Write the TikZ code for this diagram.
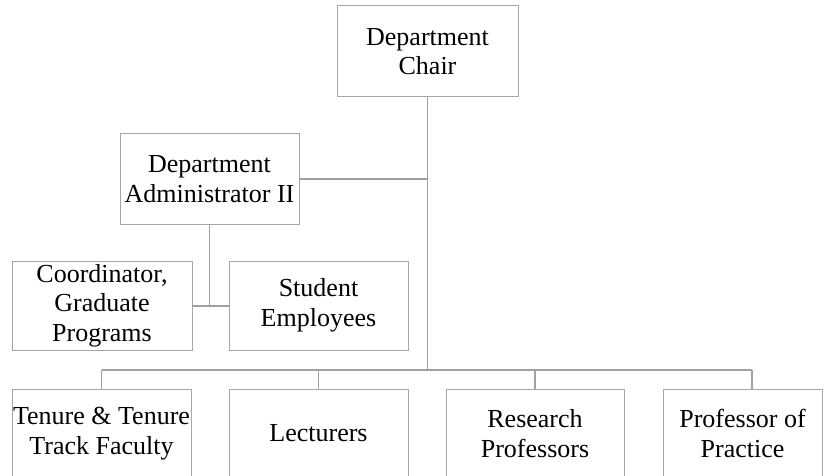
\documentclass[tikz,border=0pt]{standalone}
\usepackage{fontspec}
\setmainfont{Liberation Serif}
\definecolor{boxgray}{RGB}{165,165,165}
\definecolor{linegray}{RGB}{160,160,160}
\begin{document}
\begin{tikzpicture}[x=1pt,y=-1pt,
  box/.style={draw=boxgray, line width=1pt, minimum width=179pt, minimum height=90pt,
    inner sep=0pt, align=center, font=\fontsize{26}{29.5}\selectfont, text=black},
  link/.style={draw=linegray, line width=1.3pt}]
\useasboundingbox (0,0) rectangle (830,476);
\clip (0,0) rectangle (830,476);
\fill[white] (0,0) rectangle (830,476);
% nodes
\node[box, minimum width=181pt, minimum height=91pt] (chair) at (427.5,51.5) {Department\\Chair};
\node[box] (admin) at (209.5,179) {Department\\Administrator II};
\node[box, minimum width=180pt, minimum height=89pt] (coord) at (102,305.5) {Coordinator,\\Graduate\\Programs};
\node[box, minimum height=89pt] (student) at (318.5,305.5) {Student\\Employees};
\node[box, minimum height=89pt] (tenure) at (101.5,433.5) {Tenure \& Tenure\\Track Faculty};
\node[box, minimum height=89pt] (lect) at (318.5,433.5) {Lecturers};
\node[box, minimum width=178pt, minimum height=89pt] (research) at (535,433.5) {Research\\Professors};
\node[box, minimum width=159pt, minimum height=89pt] (prof) at (742.5,433.5) {Professor of\\Practice};
% coordinates
\coordinate (trunk) at (427.5,370);
\coordinate (adminj) at (427.5,179);
\coordinate (subj) at (209.5,306);
\coordinate (busL) at (101.5,370);
\coordinate (busR) at (752,370);
% connectors
\draw[link] (chair.south) -- (trunk);
\draw[link] (admin.east) -- (adminj);
\draw[link] (admin.south) -- (subj);
\draw[link] (coord.east |- subj) -- (student.west |- subj);
\draw[link] (busL) -- (busR);
\draw[link] (busL) -- (tenure.north);
\draw[link] (lect.north |- busL) -- (lect.north);
\draw[link] (research.north |- busL) -- (research.north);
\draw[link] (busR) -- (busR |- prof.north);
\end{tikzpicture}
\end{document}
